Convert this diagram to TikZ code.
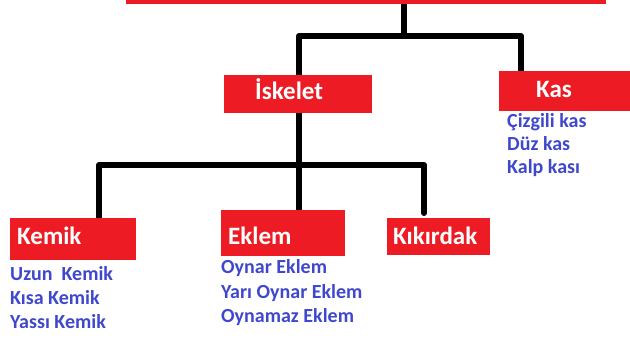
\documentclass[tikz,border=0pt]{standalone}
\usepackage{fontspec}
\setmainfont{Carlito}
\usetikzlibrary{backgrounds}
\definecolor{boxred}{HTML}{ED1C24}
\definecolor{listblue}{HTML}{3F48CC}
\tikzset{
  redbox/.style={fill=boxred, text=white, inner ysep=0pt, anchor=north west, align=left,
    font=\bfseries\fontsize{25}{25}\selectfont},
  listitem/.style={text=listblue, inner sep=0pt, anchor=base west,
    font=\bfseries\fontsize{20}{24}\selectfont},
  conn/.style={draw=black, line width=6pt, line cap=round, line join=round}
}
\begin{document}
\begin{tikzpicture}[x=1pt,y=-1pt]
\useasboundingbox (0,0) rectangle (630,338);
% top bar
\node[fill=boxred, inner sep=0pt, minimum width=480pt, minimum height=3.5pt, anchor=north west] (top) at (126,0) {};
% boxes
\node[redbox, inner xsep=31pt, text width=86pt, text height=24pt, text depth=14pt] (iskelet) at (224,75) {İskelet};
\node[redbox, inner xsep=37pt, text width=57pt, text height=26pt, text depth=14pt] (kas) at (499,71) {Kas};
\node[redbox, inner xsep=7pt, text width=112pt, text height=26pt, text depth=16pt] (kemik) at (10,218) {Kemik};
\node[redbox, inner xsep=7pt, text width=110pt, text height=34pt, text depth=12pt] (eklem) at (221,210) {Eklem};
\node[redbox, inner xsep=6pt, text width=91pt, text height=26pt, text depth=11pt] (kikirdak) at (387,218) {Kıkırdak};
% lists
\node[listitem] (kas1) at (507,127.5) {Çizgili kas};
\node[listitem] (kas2) at (507,150.5) {Düz kas};
\node[listitem] (kas3) at (507,173.5) {Kalp kası};
\node[listitem] (kem1) at (10,280.5) {Uzun\ \ Kemik};
\node[listitem] (kem2) at (10,304.5) {Kısa Kemik};
\node[listitem] (kem3) at (10,328.5) {Yassı Kemik};
\node[listitem] (ekl1) at (221,273.5) {Oynar Eklem};
\node[listitem] (ekl2) at (221,298) {Yarı Oynar Eklem};
\node[listitem] (ekl3) at (221,322.5) {Oynamaz Eklem};
% connectors
\coordinate (stem) at (404,36);
\coordinate (lj) at (299,36);
\coordinate (rj) at (521,36);
\coordinate (m2) at (299,165);
\coordinate (l2) at (99,165);
\coordinate (r2) at (424,165);
\coordinate (kend) at (424,213);
\begin{pgfonlayer}{background}
\draw[conn] (top.south -| stem) -- (stem);
\draw[conn] (iskelet.north -| lj) -- (lj) -- (rj) -- (kas.north -| rj);
\draw[conn] (iskelet.south -| m2) -- (eklem.north -| m2);
\draw[conn] (kemik.north -| l2) -- (l2) -- (r2) -- (kend);
\end{pgfonlayer}
\end{tikzpicture}
\end{document}
